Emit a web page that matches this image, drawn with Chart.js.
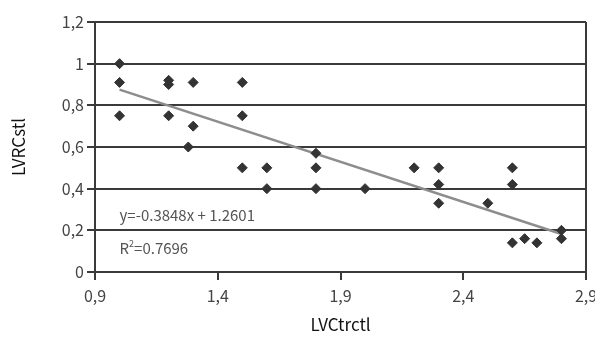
<!DOCTYPE html>
<html>
<head>
<meta charset="utf-8">
<script src="https://cdn.jsdelivr.net/npm/chart.js@4.4.0/dist/chart.umd.min.js"></script>
<style>
  body { margin: 0; background: #fff; }
  #wrap { width: 595px; height: 340px; }
</style>
</head>
<body>
<div id="wrap"><canvas id="chart" width="595" height="340"></canvas></div>
<script>
// LVCtrctl values
const xVals = [1.0, 1.0, 1.0, 1.2, 1.2, 1.2, 1.3, 1.3, 1.28, 1.5, 1.5, 1.5, 1.6, 1.6,
  1.8, 1.8, 1.8, 2.0, 2.2, 2.3, 2.3, 2.3, 2.5, 2.6, 2.6, 2.6, 2.65, 2.7, 2.8, 2.8]
// LVRCstl values
const yVals = [1.0, 0.91, 0.75, 0.92, 0.90, 0.75, 0.91, 0.70, 0.60, 0.91, 0.75, 0.50, 0.50, 0.40,
  0.57, 0.50, 0.40, 0.40, 0.50, 0.50, 0.42, 0.33, 0.33, 0.50, 0.42, 0.14, 0.16, 0.14, 0.20, 0.16]
const xTicks = [0.9, 1.4, 1.9, 2.4, 2.9]
const yTicks = [0, 0.2, 0.4, 0.6, 0.8, 1, 1.2]
const slope = -0.3848
const intercept = 1.2601
const rSquared = 0.7696
const trendRange = [1.0, 2.8]

const points = xVals.map(function(x, i){ return {x: x, y: yVals[i]} })
const trend = trendRange.map(function(x){ return {x: x, y: slope * x + intercept} })

function fmt(v){
    return String(Math.round(v * 10) / 10).replace('.', ',')
}

const dark = '#3a3a3a'
const font = "'Noto Sans CJK KR', 'Noto Sans', sans-serif"

const textPlugin = {
    id: 'eqText',
    afterDatasetsDraw(chart){
        const ctx = chart.ctx
        const xs = chart.scales.x
        const ys = chart.scales.y
        ctx.save()
        ctx.fillStyle = '#555'
        ctx.font = '15px ' + font
        ctx.textBaseline = 'middle'
        ctx.fillText('y=-0.3848x + 1.2601', xs.getPixelForValue(1.0), ys.getPixelForValue(0.274))
        const rx = xs.getPixelForValue(1.0)
        const ry = ys.getPixelForValue(0.115)
        ctx.fillText('R', rx, ry)
        const w = ctx.measureText('R').width
        ctx.font = '9px ' + font
        ctx.fillText('2', rx + w, ry - 4)
        const w2 = ctx.measureText('2').width
        ctx.font = '15px ' + font
        ctx.fillText('=' + rSquared, rx + w + w2, ry)
        ctx.restore()
    }
}

const config = {
    type: 'scatter',
    data: {
        datasets: [
            {
                label: 'LVRCstl',
                data: points,
                pointStyle: 'rectRot',
                radius: 5,
                backgroundColor: '#333',
                borderColor: '#333',
                borderWidth: 1,
                order: 1
            },
            {
                label: 'Trend',
                type: 'line',
                data: trend,
                borderColor: '#8d8d8d',
                borderWidth: 2.5,
                pointRadius: 0,
                fill: false,
                order: 2
            }
        ]
    },
    options: {
        responsive: false,
        animation: false,
        layout: { padding: { top: 22, right: 9, left: 0, bottom: 0 } },
        plugins: {
            legend: { display: false },
            tooltip: { enabled: false }
        },
        scales: {
            x: {
                type: 'linear',
                min: 0.9,
                max: 2.9,
                afterBuildTicks: function(scale){ scale.ticks = xTicks.map(function(v){ return {value: v} }) },
                afterFit: function(scale){ scale.height = 68; scale.paddingLeft = 0; scale.paddingRight = 0 },
                ticks: { callback: fmt, color: '#444', font: { family: font, size: 16 }, padding: 6 },
                grid: {
                    color: function(c){ return c.tick && c.tick.value === 2.9 ? dark : 'rgba(0,0,0,0)' },
                    lineWidth: 2,
                    tickColor: dark,
                    tickLength: 8
                },
                border: { color: dark, width: 2 },
                title: { display: true, text: 'LVCtrctl', color: '#111', font: { family: font, size: 17 }, padding: { top: 4, bottom: 5 } }
            },
            y: {
                min: 0,
                max: 1.2,
                afterBuildTicks: function(scale){ scale.ticks = yTicks.map(function(v){ return {value: v} }) },
                afterFit: function(scale){ scale.width = 95; scale.paddingTop = 0; scale.paddingBottom = 0 },
                ticks: { callback: fmt, color: '#444', font: { family: font, size: 16 }, padding: 3 },
                grid: { color: dark, lineWidth: 2, tickColor: dark, tickLength: 8 },
                border: { color: dark, width: 2 },
                title: { display: true, text: 'LVRCstl', color: '#111', font: { family: font, size: 17 }, padding: { top: 8, bottom: 4 } }
            }
        }
    },
    plugins: [textPlugin]
}

const chart = new Chart(document.getElementById('chart'), config)
</script>
</body>
</html>
